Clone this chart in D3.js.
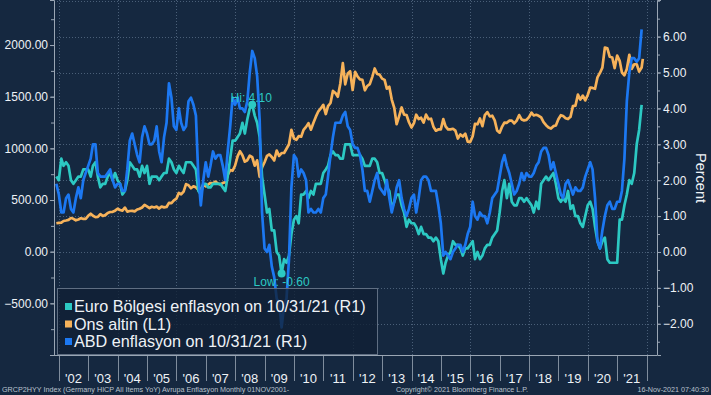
<!DOCTYPE html>
<html>
<head>
<meta charset="utf-8">
<script src="https://cdn.jsdelivr.net/npm/d3@7"></script>
<style>
	html, body { margin: 0; padding: 0; background: #152840; }
	svg { display: block; }
</style>
</head>
<body>
<script>
// Monthly values, Nov 2001 .. Oct 2021 (gold runs to mid-Nov 2021)
const euroInflation = [
	2.1, 2.0,
	2.6, 2.4, 2.5, 2.4, 2.0, 1.9, 2.0, 2.1, 2.1, 2.3, 2.3, 2.3,
	2.1, 2.4, 2.5, 2.1, 1.8, 1.9, 1.9, 2.1, 2.2, 2.0, 2.2, 2.0,
	1.9, 1.6, 1.7, 2.0, 2.5, 2.4, 2.3, 2.3, 2.1, 2.4, 2.2, 2.4,
	1.9, 2.1, 2.1, 2.1, 2.0, 2.1, 2.2, 2.2, 2.6, 2.5, 2.3, 2.2,
	2.4, 2.3, 2.2, 2.5, 2.5, 2.5, 2.4, 2.3, 1.7, 1.6, 1.9, 1.9,
	1.8, 1.8, 1.9, 1.9, 1.9, 1.9, 1.8, 1.7, 2.1, 2.6, 3.1, 3.1,
	3.2, 3.3, 3.6, 3.3, 3.7, 4.0, 4.1, 3.8, 3.6, 3.2, 2.1, 1.6,
	1.1, 1.2, 0.6, 0.6, 0.0, -0.1, -0.6, -0.2, -0.3, -0.1, 0.5, 0.9,
	1.0, 0.8, 1.6, 1.6, 1.7, 1.5, 1.7, 1.6, 1.9, 1.9, 1.9, 2.2,
	2.3, 2.4, 2.7, 2.8, 2.7, 2.7, 2.6, 2.6, 3.0, 3.0, 3.0, 2.7,
	2.7, 2.7, 2.7, 2.6, 2.4, 2.4, 2.4, 2.6, 2.6, 2.5, 2.2, 2.2,
	2.0, 1.8, 1.7, 1.2, 1.4, 1.6, 1.6, 1.3, 1.1, 0.7, 0.9, 0.8,
	0.8, 0.7, 0.5, 0.7, 0.5, 0.5, 0.4, 0.4, 0.3, 0.4, 0.3, -0.2,
	-0.6, -0.3, -0.1, 0.0, 0.3, 0.2, 0.2, 0.1, -0.1, 0.1, 0.1, 0.2,
	0.3, -0.2, 0.0, -0.2, -0.1, 0.1, 0.2, 0.2, 0.4, 0.5, 0.6, 1.1,
	1.7, 2.0, 1.5, 1.9, 1.4, 1.3, 1.3, 1.5, 1.5, 1.4, 1.5, 1.4,
	1.3, 1.1, 1.4, 1.2, 1.9, 2.0, 2.1, 2.0, 2.1, 2.2, 1.9, 1.5,
	1.4, 1.5, 1.4, 1.7, 1.2, 1.3, 1.0, 1.0, 0.8, 0.7, 1.0, 1.3,
	1.4, 1.2, 0.7, 0.3, 0.1, 0.3, 0.4, -0.2, -0.3, -0.3, -0.3, -0.3,
	0.9, 0.9, 1.3, 1.6, 2.0, 1.9, 2.2, 3.0, 3.4, 4.1
];

const usInflation = [
	1.9, 1.6,
	1.1, 1.1, 1.5, 1.6, 1.2, 1.1, 1.5, 1.8, 1.5, 2.0, 2.2, 2.4,
	2.6, 3.0, 3.0, 2.2, 2.1, 2.1, 2.1, 2.2, 2.3, 2.0, 1.8, 1.9,
	1.9, 1.7, 1.7, 2.3, 3.1, 3.3, 3.0, 2.7, 2.5, 3.2, 3.5, 3.3,
	3.0, 3.0, 3.1, 3.5, 2.8, 2.5, 3.2, 3.6, 4.7, 4.3, 3.5, 3.4,
	4.0, 3.6, 3.4, 3.5, 4.2, 4.3, 4.1, 3.8, 2.1, 1.3, 2.0, 2.5,
	2.1, 2.4, 2.8, 2.6, 2.7, 2.7, 2.4, 2.0, 2.8, 3.5, 4.3, 4.1,
	4.3, 4.0, 4.0, 3.9, 4.2, 5.0, 5.6, 5.4, 4.9, 3.7, 1.1, 0.1,
	0.0, 0.2, -0.4, -0.7, -1.3, -1.4, -2.1, -1.5, -1.3, -0.2, 1.8, 2.7,
	2.6, 2.1, 2.3, 2.2, 2.0, 1.1, 1.2, 1.1, 1.1, 1.2, 1.1, 1.5,
	1.6, 2.1, 2.7, 3.2, 3.6, 3.6, 3.6, 3.8, 3.9, 3.5, 3.4, 3.0,
	2.9, 2.9, 2.7, 2.3, 1.7, 1.7, 1.4, 1.7, 2.0, 2.2, 1.8, 1.7,
	1.6, 2.0, 1.5, 1.1, 1.4, 1.8, 2.0, 1.5, 1.2, 1.0, 1.2, 1.5,
	1.6, 1.1, 1.5, 2.0, 2.1, 2.1, 2.0, 1.7, 1.7, 1.7, 1.3, 0.8,
	-0.1, 0.0, -0.1, -0.2, 0.0, 0.1, 0.2, 0.2, 0.0, 0.2, 0.5, 0.7,
	1.4, 1.0, 0.9, 1.1, 1.0, 1.0, 0.8, 1.1, 1.5, 1.6, 1.7, 2.1,
	2.5, 2.7, 2.4, 2.2, 1.9, 1.6, 1.7, 1.9, 2.2, 2.0, 2.2, 2.1,
	2.1, 2.2, 2.4, 2.5, 2.8, 2.9, 2.9, 2.7, 2.3, 2.5, 2.2, 1.9,
	1.6, 1.5, 1.9, 2.0, 1.8, 1.6, 1.8, 1.7, 1.7, 1.8, 2.1, 2.3,
	2.5, 2.3, 1.5, 0.3, 0.1, 0.6, 1.0, 1.3, 1.4, 1.2, 1.2, 1.4,
	1.4, 1.7, 2.6, 4.2, 5.0, 5.4, 5.4, 5.3, 5.4, 6.2
];

const goldPrice = [
	275, 279,
	282, 297, 302, 308, 326, 318, 304, 312, 323, 317, 318, 347,
	368, 348, 335, 337, 364, 346, 354, 375, 384, 386, 397, 416,
	403, 397, 427, 388, 394, 395, 390, 408, 416, 428, 453, 438,
	422, 435, 428, 436, 417, 437, 429, 433, 473, 470, 496, 513,
	569, 556, 582, 654, 643, 614, 633, 623, 599, 604, 646, 632,
	650, 665, 662, 679, 659, 650, 665, 673, 743, 790, 783, 834,
	923, 972, 933, 871, 885, 930, 914, 833, 884, 724, 815, 866,
	928, 942, 916, 883, 979, 927, 955, 955, 996, 1040, 1180, 1096,
	1083, 1118, 1113, 1179, 1208, 1244, 1181, 1248, 1307, 1359, 1386, 1421,
	1332, 1409, 1439, 1556, 1536, 1500, 1628, 1825, 1620, 1725, 1746, 1565,
	1740, 1697, 1668, 1664, 1562, 1604, 1622, 1692, 1773, 1720, 1714, 1675,
	1663, 1578, 1596, 1472, 1393, 1234, 1312, 1396, 1327, 1323, 1253, 1202,
	1244, 1326, 1284, 1296, 1250, 1327, 1282, 1287, 1210, 1171, 1183, 1184,
	1283, 1213, 1183, 1184, 1190, 1172, 1095, 1135, 1115, 1142, 1065, 1061,
	1118, 1238, 1233, 1290, 1215, 1322, 1351, 1309, 1316, 1271, 1173, 1152,
	1211, 1249, 1247, 1268, 1269, 1242, 1269, 1322, 1280, 1271, 1275, 1303,
	1345, 1318, 1325, 1315, 1299, 1253, 1224, 1202, 1192, 1215, 1222, 1282,
	1321, 1313, 1292, 1284, 1305, 1409, 1413, 1520, 1472, 1511, 1464, 1517,
	1589, 1585, 1577, 1687, 1730, 1781, 1975, 1968, 1886, 1879, 1777, 1898,
	1847, 1734, 1708, 1769, 1906, 1770, 1814, 1814, 1743, 1783, 1866
];

const yearLabels = ["'02", "'03", "'04", "'05", "'06", "'07", "'08", "'09", "'10", "'11",
	"'12", "'13", "'14", "'15", "'16", "'17", "'18", "'19", "'20", "'21"];
const legendLabels = [
	"Euro Bölgesi enflasyon on 10/31/21 (R1)",
	"Ons altin (L1)",
	"ABD enflasyon on 10/31/21 (R1)",
];
const leftTicks = [-500, 0, 500, 1000, 1500, 2000];
const rightTicks = [-2, -1, 0, 1, 2, 3, 4, 5, 6];
const footerLeft = "GRCP2HYY Index (Germany HICP All Items YoY) Avrupa Enflasyon  Monthly 01NOV2001-";
const footerMid = "Copyright\u00a9 2021 Bloomberg Finance L.P.";
const footerRight = "16-Nov-2021 07:40:30";

const colors = {
	background: "#152840",
	euro: "#2cc9c3",
	gold: "#f6b25a",
	us: "#1c78f2",
	grid: "#4a5f78",
	axis: "#9aa6b4",
	text: "#eef2f6",
	footer: "#b9c2cd",
	legendFill: "rgba(17,32,52,0.78)",
	legendStroke: "#5f6e82",
};
const plot = { left: 54, right: 657, top: 0, bottom: 355 };
const font = "'Liberation Sans', Arial, sans-serif";

// month-end dates, starting Nov 2001
const monthEnd = (i) => new Date(2001, 11 + i, 0);
const euroData = euroInflation.map((v, i) => ({ date: monthEnd(i), value: v }));
const usData = usInflation.map((v, i) => ({ date: monthEnd(i), value: v }));
const goldData = goldPrice.map((v, i) => ({
	date: i === goldPrice.length - 1 ? new Date(2021, 10, 15) : monthEnd(i),
	value: v,
}));

const svg = d3.select("body").append("svg")
	.attr("width", 711)
	.attr("height", 395)
	.style("font-family", font);

svg.append("rect").attr("width", 711).attr("height", 395).attr("fill", colors.background);

const x = d3.scaleTime()
	.domain([new Date(2001, 10, 1), new Date(2022, 4, 10)])
	.range([plot.left, plot.right]);
const yRight = d3.scaleLinear().domain([-2.87, 7.02]).range([plot.bottom, plot.top]);
const yLeft = d3.scaleLinear().domain([-1000, 2436]).range([plot.bottom, plot.top]);

// Grid
const grid = svg.append("g")
	.attr("stroke", colors.grid)
	.attr("stroke-width", 1)
	.attr("stroke-dasharray", "1,2");
grid.selectAll("line.h")
	.data(d3.range(-2, 8))
	.enter().append("line")
	.attr("x1", plot.left).attr("x2", plot.right)
	.attr("y1", (d) => Math.round(yRight(d)) + 0.5)
	.attr("y2", (d) => Math.round(yRight(d)) + 0.5);
grid.selectAll("line.v")
	.data(d3.range(2002, 2023, 2))
	.enter().append("line")
	.attr("x1", (d) => Math.round(x(new Date(d, 0, 1))) + 0.5)
	.attr("x2", (d) => Math.round(x(new Date(d, 0, 1))) + 0.5)
	.attr("y1", plot.top).attr("y2", plot.bottom);

// Left axis
const leftAxis = svg.append("g").attr("transform", `translate(${plot.left},0)`);
leftAxis.call(d3.axisLeft(yLeft).tickValues(d3.range(-1000, 2500, 250)).tickSize(3).tickFormat(""));
leftAxis.call((g) => g.select(".domain").remove());
const leftMajor = svg.append("g").attr("transform", `translate(${plot.left},0)`)
	.call(d3.axisLeft(yLeft).tickValues(leftTicks).tickSize(4).tickPadding(2).tickFormat(d3.format(".2f")));

// Right axis
const rightAxis = svg.append("g").attr("transform", `translate(${plot.right},0)`);
rightAxis.call(d3.axisRight(yRight).tickValues(d3.range(-2.5, 7.5, 0.5)).tickSize(3).tickFormat(""));
rightAxis.call((g) => g.select(".domain").remove());
const rightMajor = svg.append("g").attr("transform", `translate(${plot.right},0)`)
	.call(d3.axisRight(yRight).tickValues(rightTicks).tickSize(4).tickPadding(2).tickFormat(d3.format(".2f")));

[leftAxis, leftMajor, rightAxis, rightMajor].forEach((g) => {
	g.selectAll("line").attr("stroke", colors.axis);
	g.selectAll("path").attr("stroke", colors.axis);
	g.selectAll("text").attr("fill", colors.text).style("font-size", "12px").style("font-family", font);
});

svg.append("text")
	.attr("transform", "translate(696,178) rotate(90)")
	.attr("text-anchor", "middle")
	.attr("fill", colors.text)
	.style("font-size", "14.5px")
	.text("Percent");

// Bottom axis: year separators and labels
svg.append("line")
	.attr("x1", plot.left).attr("x2", plot.right)
	.attr("y1", plot.bottom + 0.5).attr("y2", plot.bottom + 0.5)
	.attr("stroke", colors.axis);
svg.append("g").selectAll("line")
	.data(d3.range(2002, 2023))
	.enter().append("line")
	.attr("x1", (d) => Math.round(x(new Date(d, 0, 1))) + 0.5)
	.attr("x2", (d) => Math.round(x(new Date(d, 0, 1))) + 0.5)
	.attr("y1", plot.bottom).attr("y2", 381)
	.attr("stroke", colors.axis)
	.attr("stroke-opacity", 0.8);
svg.append("g").selectAll("text")
	.data(yearLabels)
	.enter().append("text")
	.attr("x", (d, i) => x(new Date(2002 + i, 6, 1)))
	.attr("y", 383)
	.attr("text-anchor", "middle")
	.attr("fill", colors.text)
	.style("font-size", "13px")
	.text((d) => d);

// Series
const lineRight = d3.line().x((d) => x(d.date)).y((d) => yRight(d.value));
const lineLeft = d3.line().x((d) => x(d.date)).y((d) => yLeft(d.value));
const series = svg.append("g").attr("fill", "none").attr("stroke-width", 2.7).attr("stroke-linejoin", "round");
series.append("path").datum(goldData).attr("d", lineLeft).attr("stroke", colors.gold);
series.append("path").datum(euroData).attr("d", lineRight).attr("stroke", colors.euro);
series.append("path").datum(usData).attr("d", lineRight).attr("stroke", colors.us);

// Hi / Low markers on the euro series
const hi = euroData.reduce((a, b) => (b.value > a.value ? b : a));
const lo = euroData.reduce((a, b) => (b.value < a.value ? b : a));
const marks = svg.append("g");
marks.selectAll("circle")
	.data([hi, lo])
	.enter().append("circle")
	.attr("cx", (d) => x(d.date))
	.attr("cy", (d) => yRight(d.value))
	.attr("r", 4)
	.attr("fill", colors.euro);
marks.append("text")
	.attr("x", x(hi.date) - 1)
	.attr("y", yRight(hi.value) - 3)
	.attr("text-anchor", "middle")
	.attr("fill", colors.euro)
	.style("font-size", "12px")
	.text(`Hi: ${hi.value.toFixed(2)}`);
marks.append("text")
	.attr("x", x(lo.date))
	.attr("y", yRight(lo.value) + 12)
	.attr("text-anchor", "middle")
	.attr("fill", colors.euro)
	.style("font-size", "12px")
	.text(`Low: ${lo.value.toFixed(2)}`);

// Legend
const legend = svg.append("g").attr("transform", "translate(57,288)");
legend.append("rect")
	.attr("x", 0.5).attr("y", 0.5)
	.attr("width", 320).attr("height", 66)
	.attr("fill", colors.legendFill)
	.attr("stroke", colors.legendStroke);
const legendColors = [colors.euro, colors.gold, colors.us];
const rows = legend.selectAll("g.row")
	.data(legendLabels)
	.enter().append("g")
	.attr("transform", (d, i) => `translate(0,${24 + i * 17.5})`);
rows.append("rect")
	.attr("x", 8).attr("y", -9)
	.attr("width", 7).attr("height", 7)
	.attr("fill", (d, i) => legendColors[i]);
rows.append("text")
	.attr("x", 17).attr("y", 0)
	.attr("fill", colors.text)
	.style("font-size", "16.2px")
	.text((d) => d);

// Footer
const footer = svg.append("g").attr("fill", colors.footer).style("font-size", "7.2px");
footer.append("text").attr("x", 2).attr("y", 392).text(footerLeft);
footer.append("text").attr("x", 462).attr("y", 392).attr("text-anchor", "middle").text(footerMid);
footer.append("text").attr("x", 709).attr("y", 392).attr("text-anchor", "end").text(footerRight);
</script>
</body>
</html>
